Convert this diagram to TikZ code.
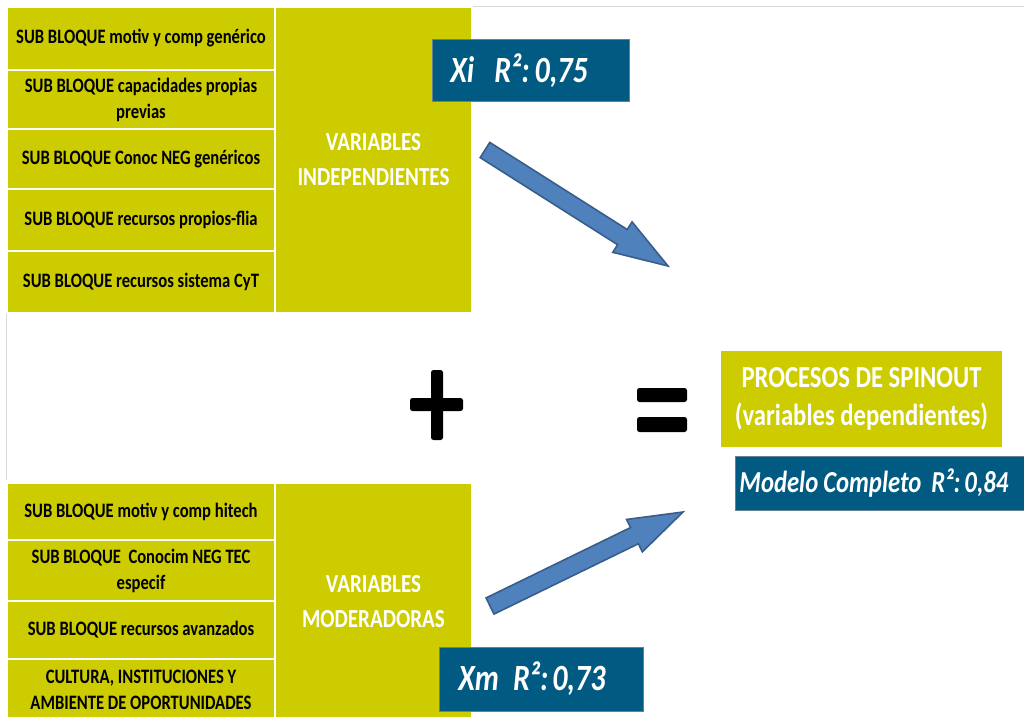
\documentclass[tikz,border=0pt]{standalone}
\usepackage{fontspec}
\setmainfont{Carlito}[FakeStretch=0.81]
\definecolor{oliveY}{RGB}{204,204,0}
\definecolor{darkbox}{RGB}{0,90,130}
\definecolor{darkedge}{RGB}{100,130,150}
\definecolor{arrowfill}{RGB}{79,129,189}
\definecolor{arrowline}{RGB}{56,93,138}
\frenchspacing
\tikzset{
  cell/.style={rectangle, fill=oliveY, draw=white, line width=1.5pt, inner sep=0pt,
    align=center, text=black, font=\fontsize{20.5}{26}\selectfont\bfseries},
  headcell/.style={cell, text=white, font=\fontsize{26}{35}\selectfont\bfseries},
  rbox/.style={rectangle, fill=darkbox, draw=darkedge, line width=0.8pt, text=white,
    align=left, inner ysep=0pt},
  blockarrow/.style={fill=arrowfill, draw=arrowline, line width=1.6pt, line join=miter},
  signbar/.style={fill=black, rounded corners=2.5pt}
}
\begin{document}
\begin{tikzpicture}[x=1pt,y=-1pt]
\useasboundingbox (0,0) rectangle (1024,716);
% page frame lines
\draw[gray!30, line width=0.8pt] (1024,6) -- (6,6) -- (6,480);
% top table
\node[cell, minimum width=268pt, minimum height=63pt] (t1) at (141,38.5) {SUB BLOQUE motiv y comp genérico};
\node[cell, minimum width=268pt, minimum height=59pt] (t2) at (141,99.5) {SUB BLOQUE capacidades propias\\previas};
\node[cell, minimum width=268pt, minimum height=60pt] (t3) at (141,159) {SUB BLOQUE Conoc NEG genéricos};
\node[cell, minimum width=268pt, minimum height=62pt] (t4) at (141,220) {SUB BLOQUE recursos propios-flia};
\node[cell, minimum width=268pt, minimum height=62pt] (t5) at (141,282) {SUB BLOQUE recursos sistema CyT};
\node[headcell, minimum width=197pt, minimum height=306pt] (vi) at (373.5,160) {VARIABLES\\INDEPENDIENTES};
% bottom table
\node[cell, minimum width=268pt, minimum height=57pt] (b1) at (141,511.5) {SUB BLOQUE motiv y comp hitech};
\node[cell, minimum width=268pt, minimum height=61pt] (b2) at (141,570.5) {SUB BLOQUE\ \ Conocim NEG TEC\\especif};
\node[cell, minimum width=268pt, minimum height=58pt] (b3) at (141,630) {SUB BLOQUE recursos avanzados};
\node[cell, minimum width=268pt, minimum height=61pt] (b4) at (141,689.5) {CULTURA, INSTITUCIONES Y\\AMBIENTE DE OPORTUNIDADES};
\node[headcell, minimum width=197pt, minimum height=237pt] (vm) at (373.5,601.5) {VARIABLES\\MODERADORAS};
% R2 boxes
\node[rbox, anchor=west, minimum height=62pt, inner xsep=18pt, text width=161pt,
  font=\fontsize{37}{40}\selectfont\bfseries\itshape] (xi) at (432,70.5) {Xi\hspace{20pt}R²:\hspace{5pt}0,75};
\node[rbox, anchor=west, minimum height=64pt, inner xsep=19pt, text width=166pt,
  font=\fontsize{37}{40}\selectfont\bfseries\itshape] (xm) at (439,679) {Xm\hspace{14pt}R²:\hspace{4pt}0,73};
% result
\node[cell, text=white, minimum width=283pt, minimum height=98pt,
  font=\fontsize{30.5}{38}\selectfont\bfseries] (pr) at (861.5,399) {PROCESOS DE SPINOUT\\(variables dependientes)};
\node[rbox, anchor=west, minimum height=54pt, inner xsep=4pt, text width=290pt,
  font=\fontsize{30.5}{33}\selectfont\bfseries\itshape] (mc) at (735,483) {Modelo\hspace{5pt}Completo\hspace{10pt}R²:\hspace{4pt}0,84};
% arrows
\begin{scope}[shift={(485,150)}, rotate=-32.37]
  \draw[blockarrow] (0,-9) -- (162.7,-9) -- (162.7,-18) -- (216.7,0) -- (162.7,18) -- (162.7,9) -- (0,9) -- cycle;
\end{scope}
\begin{scope}[shift={(490,606)}, rotate=25.97]
  \draw[blockarrow] (0,-9) -- (160.7,-9) -- (160.7,-18) -- (214.7,0) -- (160.7,18) -- (160.7,9) -- (0,9) -- cycle;
\end{scope}
% plus and equals
\fill[signbar] (410,398) rectangle (463,411);
\fill[signbar] (431,370) rectangle (443,440);
\fill[signbar] (637,388) rectangle (687,402);
\fill[signbar] (637,417) rectangle (687,432);
\end{tikzpicture}
\end{document}
